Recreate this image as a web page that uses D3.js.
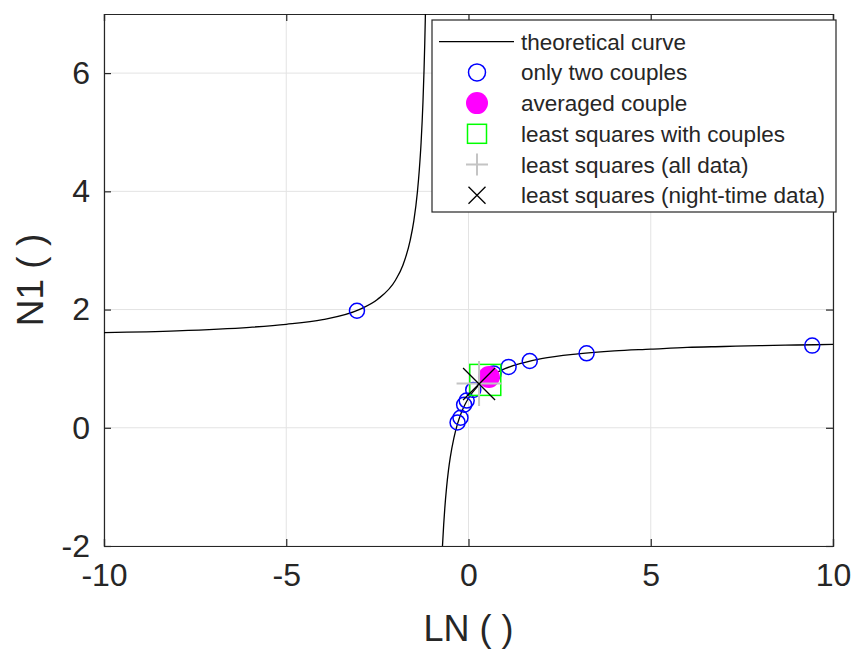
<!DOCTYPE html>
<html>
<head>
<meta charset="utf-8">
<script src="https://cdn.jsdelivr.net/npm/d3@7"></script>
<style>
  body { margin: 0; background: #fff; }
  text { font-family: "Liberation Sans", Arial, Helvetica, sans-serif; fill: #262626; }
</style>
</head>
<body>
<svg id="chart" width="853" height="651"></svg>
<script>
// theoretical curve (two branches either side of the asymptote)
const curveLeftX  = [-10, -8, -6, -5, -4, -3, -2.5, -2, -1.8, -1.6, -1.5, -1.4, -1.35, -1.3, -1.25, -1.22, -1.2, -1.18];
const curveLeftY  = [1.61, 1.64, 1.70, 1.75, 1.83, 2.00, 2.17, 2.50, 2.75, 3.17, 3.50, 4.00, 4.36, 4.83, 5.50, 6.05, 6.50, 7.06];
const curveRightX = [-0.714, -0.68, -0.65, -0.6, -0.55, -0.5, -0.4, -0.3, -0.2, -0.1, 0, 0.25, 0.5, 1, 1.5, 2, 3, 4, 5, 6, 7, 8, 9, 10];
const curveRightY = [-2.0, -1.63, -1.36, -1.0, -0.72, -0.5, -0.17, 0.07, 0.25, 0.39, 0.5, 0.70, 0.83, 1.0, 1.10, 1.17, 1.25, 1.30, 1.33, 1.36, 1.375, 1.39, 1.40, 1.41];

// "only two couples"
const coupleX = [-3.06, -0.30, -0.22, -0.12, -0.05, 0.13, 0.69, 1.10, 1.68, 3.24, 9.43];
const coupleY = [1.98, 0.09, 0.17, 0.39, 0.46, 0.64, 0.92, 1.03, 1.13, 1.26, 1.39];

const averagedCouple = [0.56, 0.86];
const lsCouples = [0.46, 0.81];
const lsAll = [0.29, 0.75];
const lsNight = [0.29, 0.74];

const xTicks = [-10, -5, 0, 5, 10];
const yTicks = [-2, 0, 2, 4, 6];

const legendLabels = ['theoretical curve', 'only two couples', 'averaged couple',
  'least squares with couples', 'least squares (all data)', 'least squares (night-time data)'];

const margin = { top: 14, left: 104, right: 20, bottom: 105 };
const width = 853 - margin.left - margin.right;
const height = 651 - margin.top - margin.bottom;
const axisColor = '#262626';

const svg = d3.select('#chart')
  .append('g')
  .attr('transform', `translate(${margin.left},${margin.top})`);

const xScale = d3.scaleLinear().domain([-10, 10]).range([0, width]);
const yScale = d3.scaleLinear().domain([-2, 7]).range([height, 0]);

svg.append('defs').append('clipPath').attr('id', 'clip')
  .append('rect').attr('width', width).attr('height', height);

// grid
svg.append('g').selectAll('line').data(xTicks).enter().append('line')
  .attr('x1', d => xScale(d)).attr('x2', d => xScale(d))
  .attr('y1', 0).attr('y2', height)
  .attr('stroke', '#e3e3e3').attr('stroke-width', 1);
svg.append('g').selectAll('line').data(yTicks).enter().append('line')
  .attr('y1', d => yScale(d)).attr('y2', d => yScale(d))
  .attr('x1', 0).attr('x2', width)
  .attr('stroke', '#e3e3e3').attr('stroke-width', 1);

// axes (inward ticks on all four sides, like matlab box on)
const tickLen = 7;
const fmt = d => d < 0 ? '-' + Math.abs(d) : String(d);
svg.append('g').attr('transform', `translate(0,${height})`)
  .call(d3.axisBottom(xScale).tickValues(xTicks).tickSize(-tickLen).tickPadding(17).tickFormat(fmt));
svg.append('g')
  .call(d3.axisLeft(yScale).tickValues(yTicks).tickSize(-tickLen).tickPadding(14).tickFormat(fmt));
svg.append('g')
  .call(d3.axisTop(xScale).tickValues(xTicks).tickSize(-tickLen).tickFormat(''));
svg.append('g').attr('transform', `translate(${width},0)`)
  .call(d3.axisRight(yScale).tickValues(yTicks).tickSize(-tickLen).tickFormat(''));

svg.selectAll('.domain, .tick line').attr('stroke', axisColor).attr('stroke-width', 1.2);
svg.selectAll('.tick text').attr('font-size', 32).attr('fill', axisColor)
  .attr('font-family', '"Liberation Sans", Arial, Helvetica, sans-serif');

// plot content
const plot = svg.append('g').attr('clip-path', 'url(#clip)');

const line = d3.line()
  .x(d => xScale(d[0]))
  .y(d => yScale(d[1]))
  .curve(d3.curveMonotoneX);

[[curveLeftX, curveLeftY], [curveRightX, curveRightY]].forEach(function(branch) {
  plot.append('path')
    .datum(branch[0].map((x, i) => [x, branch[1][i]]))
    .attr('d', line)
    .attr('fill', 'none')
    .attr('stroke', '#000')
    .attr('stroke-width', 1.3);
});

plot.selectAll('.couple')
  .data(coupleX.map((x, i) => [x, coupleY[i]]))
  .enter().append('circle')
  .attr('class', 'couple')
  .attr('cx', d => xScale(d[0]))
  .attr('cy', d => yScale(d[1]))
  .attr('r', 7.5)
  .attr('fill', 'none')
  .attr('stroke', '#0000ff')
  .attr('stroke-width', 1.5);

plot.append('circle')
  .attr('cx', xScale(averagedCouple[0]))
  .attr('cy', yScale(averagedCouple[1]))
  .attr('r', 11)
  .attr('fill', '#ff00ff');

function drawSquare(g, cx, cy, s) {
  g.append('rect')
    .attr('x', cx - s / 2).attr('y', cy - s / 2)
    .attr('width', s).attr('height', s)
    .attr('fill', 'none').attr('stroke', '#00ff00').attr('stroke-width', 1.5);
}
function drawPlus(g, cx, cy, s) {
  g.append('path')
    .attr('d', `M${cx - s / 2},${cy}H${cx + s / 2}M${cx},${cy - s / 2}V${cy + s / 2}`)
    .attr('stroke', '#c4c4c4').attr('stroke-width', 2).attr('fill', 'none');
}
function drawCross(g, cx, cy, s) {
  const h = s / 2;
  g.append('path')
    .attr('d', `M${cx - h},${cy - h}L${cx + h},${cy + h}M${cx - h},${cy + h}L${cx + h},${cy - h}`)
    .attr('stroke', '#000').attr('stroke-width', 1.3).attr('fill', 'none');
}

drawSquare(plot, xScale(lsCouples[0]), yScale(lsCouples[1]), 31);
drawPlus(plot, xScale(lsAll[0]), yScale(lsAll[1]), 45);
drawCross(plot, xScale(lsNight[0]), yScale(lsNight[1]), 32);

// axis labels
d3.select('#chart').append('text')
  .attr('x', margin.left + xScale(0)).attr('y', 641)
  .attr('text-anchor', 'middle').attr('font-size', 36)
  .text('LN ( )');
d3.select('#chart').append('text')
  .attr('transform', `translate(43,${margin.top + height / 2}) rotate(-90)`)
  .attr('text-anchor', 'middle').attr('font-size', 37)
  .text('N1 ( )');

// legend
const legend = d3.select('#chart').append('g').attr('transform', 'translate(432,20)');
legend.append('rect')
  .attr('width', 404).attr('height', 192)
  .attr('fill', '#fff').attr('stroke', axisColor).attr('stroke-width', 1.2);

const rowY = i => 21.7 + i * 30.7;
const markX = 45;

const entries = legend.selectAll('.legend-entry')
  .data(legendLabels)
  .enter().append('g')
  .attr('class', 'legend-entry');

entries.append('text')
  .attr('x', 89)
  .attr('y', (d, i) => rowY(i) + 8)
  .attr('font-size', 22.5)
  .attr('fill', '#000')
  .text(d => d);

legend.append('line')
  .attr('x1', 7).attr('x2', 82).attr('y1', rowY(0)).attr('y2', rowY(0))
  .attr('stroke', '#000').attr('stroke-width', 1.3);
legend.append('circle')
  .attr('cx', markX).attr('cy', rowY(1)).attr('r', 8.5)
  .attr('fill', 'none').attr('stroke', '#0000ff').attr('stroke-width', 1.5);
legend.append('circle')
  .attr('cx', markX).attr('cy', rowY(2)).attr('r', 11)
  .attr('fill', '#ff00ff');
drawSquare(legend, markX, rowY(3), 19);
drawPlus(legend, markX, rowY(4), 22);
drawCross(legend, markX, rowY(5), 17);
</script>
</body>
</html>
